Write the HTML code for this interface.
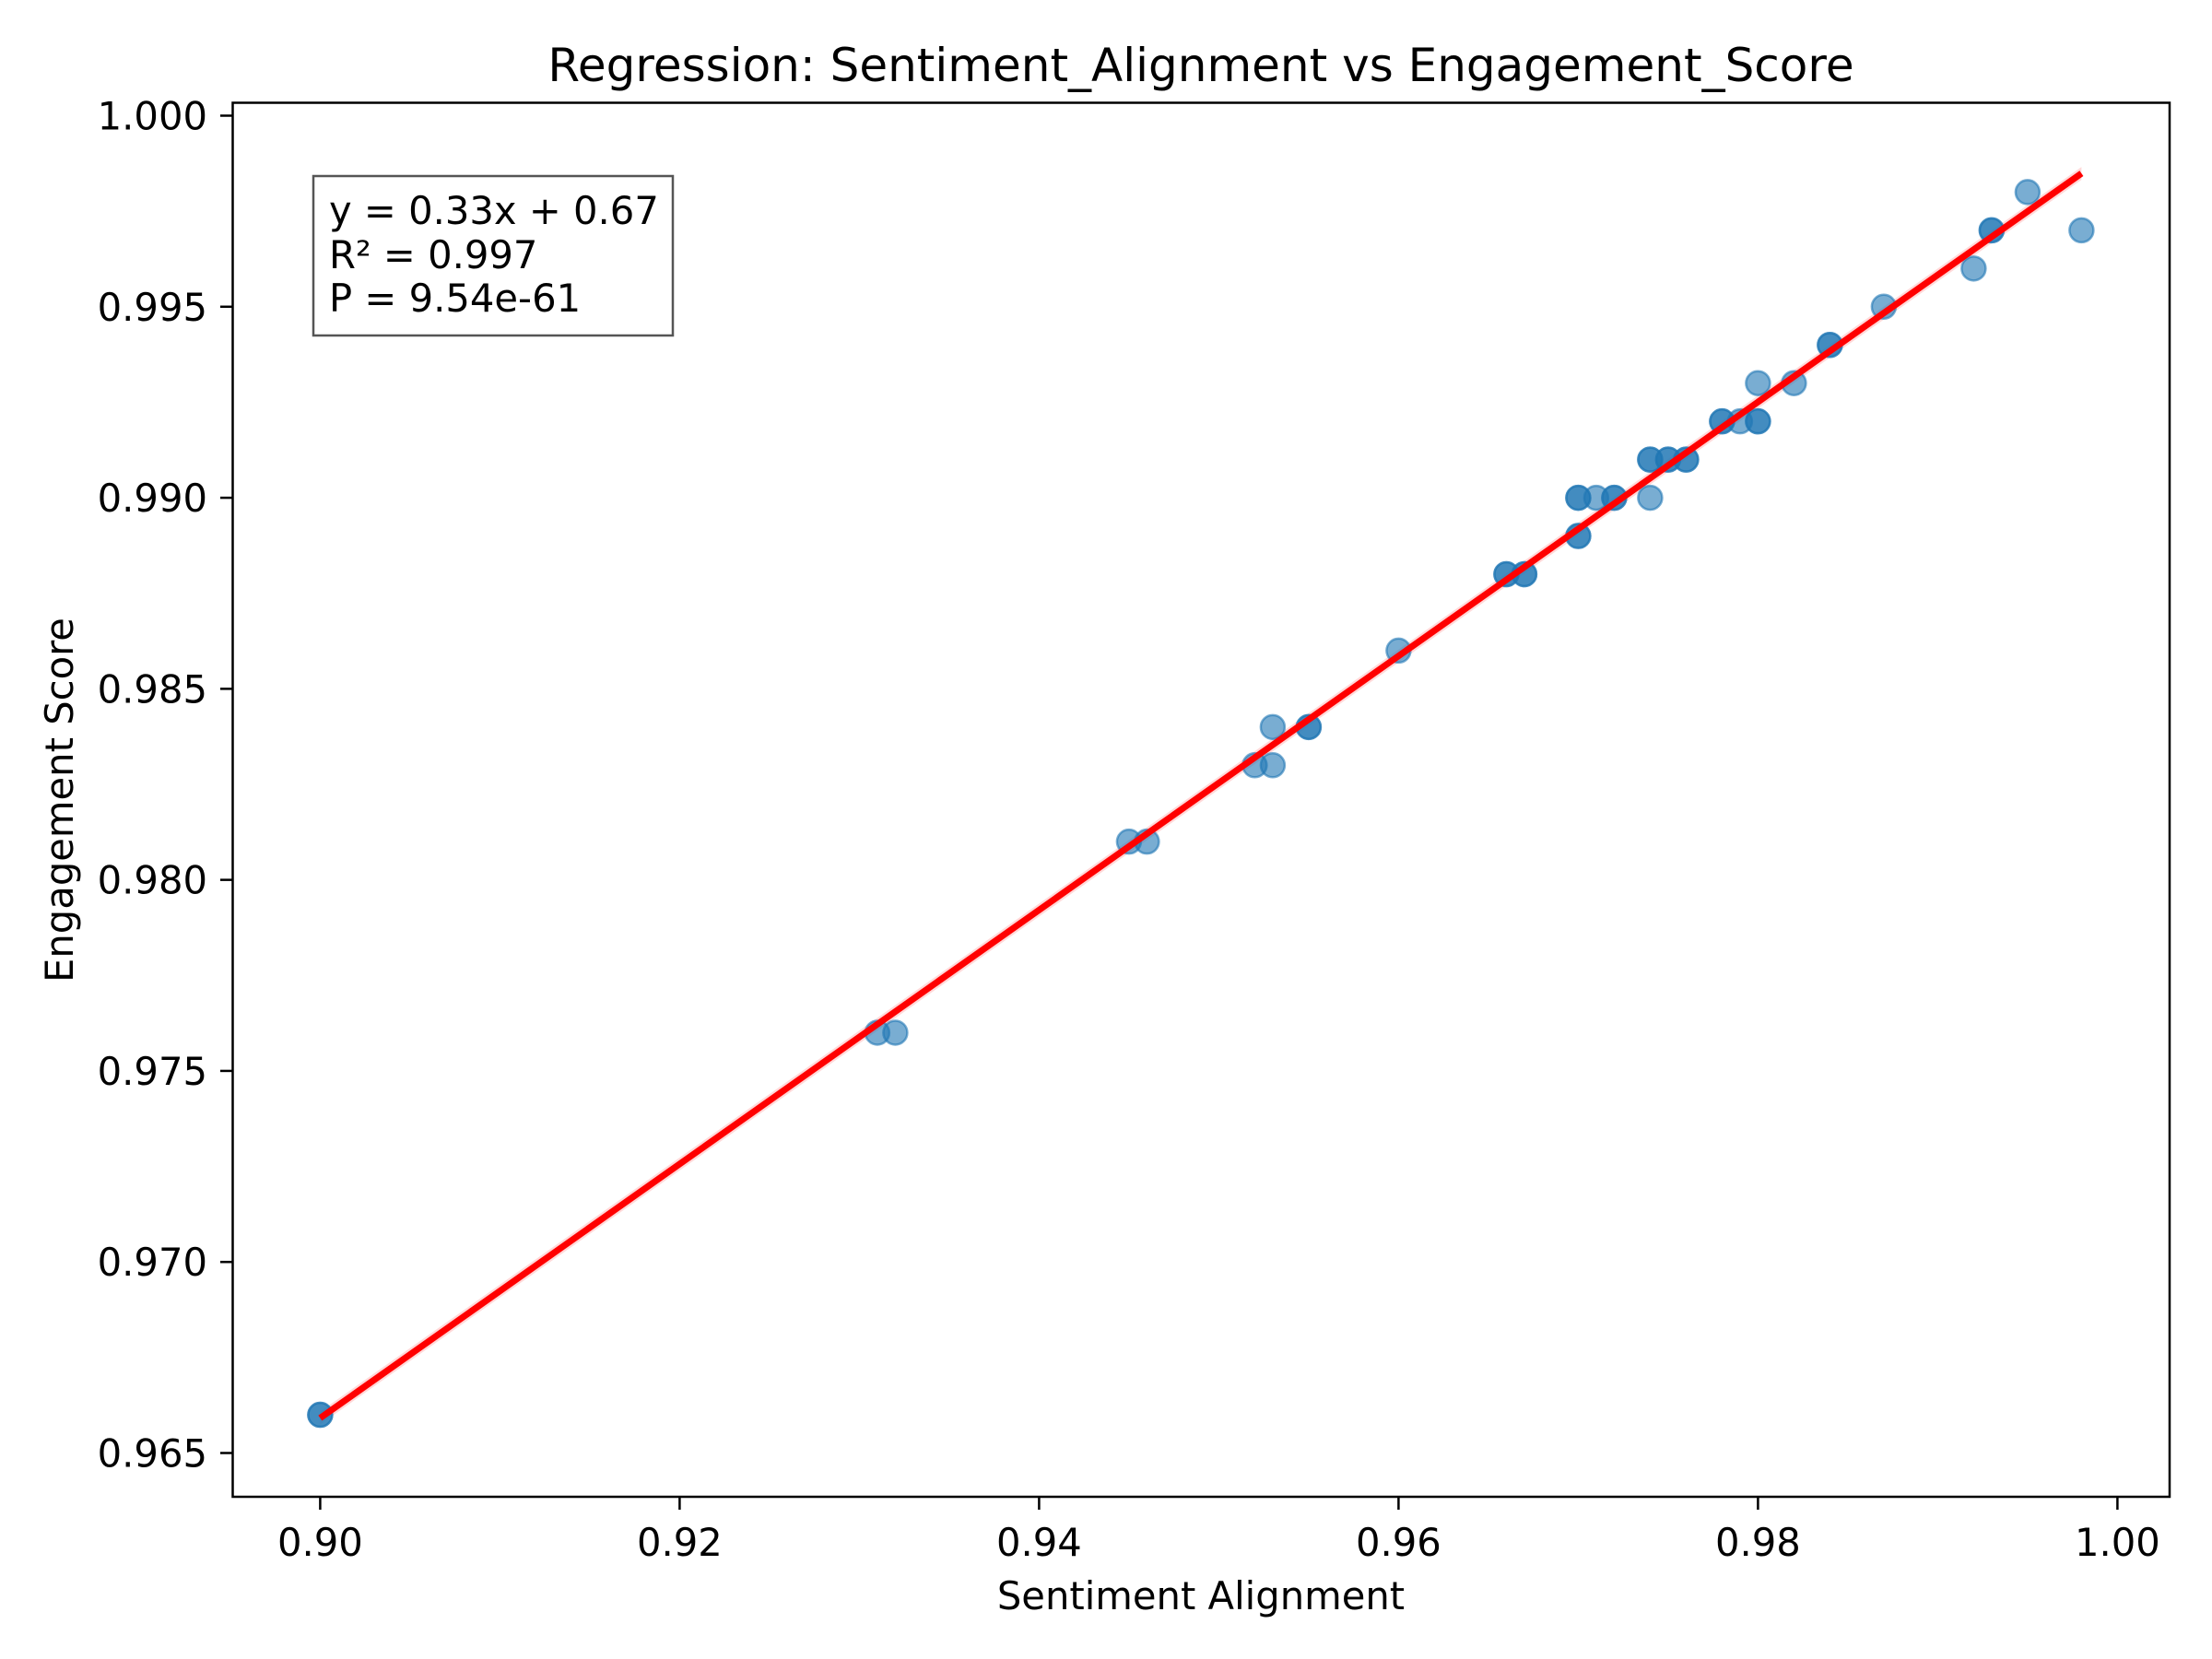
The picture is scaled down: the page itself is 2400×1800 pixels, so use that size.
<!DOCTYPE html>
<html><head><meta charset="utf-8"><style>
html,body{margin:0;padding:0;background:#fff;}
svg{display:block;font-family:"DejaVu Sans","Liberation Sans",sans-serif;}
</style></head><body>
<svg id="chart" width="2400" height="1800" viewBox="0 0 2400 1800">
<rect x="0" y="0" width="2400" height="1800" fill="#fff"/>
<text x="1303" y="88" font-size="50" text-anchor="middle" fill="#000">Regression: Sentiment_Alignment vs Engagement_Score</text>
<g id="band"></g>
<g id="points"></g>
<g id="fit"></g>
<rect x="252.5" y="111.5" width="2101.5" height="1512.5" fill="none" stroke="#000" stroke-width="2.5"/>
<g id="xticks"></g>
<g id="yticks"></g>
<text x="1303" y="1746" font-size="41.7" text-anchor="middle">Sentiment Alignment</text>
<text x="0" y="0" font-size="41.7" text-anchor="middle" transform="translate(79,868) rotate(-90)">Engagement Score</text>
<g>
<rect x="340" y="191" width="390" height="173" fill="#fff" stroke="#555" stroke-width="2.5" fill-opacity="0.8"/>
<text x="357" y="243" font-size="41.7">y = 0.33x + 0.67</text>
<text x="357" y="291" font-size="41.7">R² = 0.997</text>
<text x="357" y="338" font-size="41.7">P = 9.54e-61</text>
</g>
</svg>
<script>
const xs = [0.900,0.900,0.931,0.932,0.945,0.946,0.952,0.953,0.953,0.955,0.955,0.960,0.966,0.966,0.967,0.967,0.970,0.970,0.970,0.970,0.971,0.972,0.972,0.974,0.974,0.974,0.975,0.975,0.976,0.976,0.978,0.978,0.979,0.980,0.980,0.980,0.982,0.984,0.984,0.987,0.992,0.993,0.993,0.995,0.998];
const ys = [0.966,0.966,0.976,0.976,0.981,0.981,0.983,0.983,0.984,0.984,0.984,0.986,0.988,0.988,0.988,0.988,0.989,0.989,0.990,0.990,0.990,0.990,0.990,0.990,0.991,0.991,0.991,0.991,0.991,0.991,0.992,0.992,0.992,0.992,0.992,0.993,0.993,0.994,0.994,0.995,0.996,0.997,0.997,0.998,0.997];
const xTicks = [0.90,0.92,0.94,0.96,0.98,1.00];
const xTickLabels = ["0.90","0.92","0.94","0.96","0.98","1.00"];
const yTicks = [0.965,0.970,0.975,0.980,0.985,0.990,0.995,1.000];
const yTickLabels = ["0.965","0.970","0.975","0.980","0.985","0.990","0.995","1.000"];

const NS = "http://www.w3.org/2000/svg";
const X0 = 347.4, X1 = 2297.4, Y0 = 1576.5, Y1 = 125.5;
function sx(v){ return X0 + (v - 0.90) / 0.10 * (X1 - X0); }
function sy(v){ return Y0 + (v - 0.965) / 0.035 * (Y1 - Y0); }
function mk(tag, attrs, parent){ const e = document.createElementNS(NS, tag); for (const k in attrs) e.setAttribute(k, attrs[k]); parent.appendChild(e); return e; }

const n = xs.length;
let mx = 0, my = 0; for (let i=0;i<n;i++){ mx += xs[i]; my += ys[i]; } mx/=n; my/=n;
let sxx = 0, sxy = 0; for (let i=0;i<n;i++){ sxx += (xs[i]-mx)**2; sxy += (xs[i]-mx)*(ys[i]-my); }
const slope = sxy / sxx, icpt = my - slope * mx;
const xmin = Math.min(...xs), xmax = Math.max(...xs);

const band = document.getElementById('band');
const bw = 7;
const bp = mk('polygon', {points: `${sx(xmin)},${sy(slope*xmin+icpt)-bw} ${sx(xmax)},${sy(slope*xmax+icpt)-bw} ${sx(xmax)},${sy(slope*xmax+icpt)+bw} ${sx(xmin)},${sy(slope*xmin+icpt)+bw}`, fill:'#ff0000', 'fill-opacity':0.15}, band);



const pts = document.getElementById('points');
for (let i=0;i<n;i++){
  const c = mk('circle', {cx: sx(xs[i]), cy: sy(ys[i]), r: 13, fill:'#1f77b4', 'fill-opacity':0.6, stroke:'#1f77b4', 'stroke-opacity':0.6, 'stroke-width':2.5}, pts);
  
  
}

const fl = mk('line', {x1: sx(xmin), y1: sy(slope*xmin+icpt), x2: sx(xmax), y2: sy(slope*xmax+icpt), stroke:'#ff0000', 'stroke-width':7}, document.getElementById('fit'));



const xg = document.getElementById('xticks');
xTicks.forEach((t,i)=>{
  const x = sx(t);
  const l = mk('line', {x1:x, y1:1624, x2:x, y2:1638, stroke:'#000', 'stroke-width':2.5}, xg);
  
  
  const tx = mk('text', {x:x, y:1688, 'font-size':41.7, 'text-anchor':'middle'}, xg);
  tx.textContent = xTickLabels[i];
  
  
});
const yg = document.getElementById('yticks');
yTicks.forEach((t,i)=>{
  const y = sy(t);
  const l = mk('line', {x1:239, y1:y, x2:253, y2:y, stroke:'#000', 'stroke-width':2.5}, yg);
  
  
  const tx = mk('text', {x:225, y:y+15, 'font-size':41.7, 'text-anchor':'end'}, yg);
  tx.textContent = yTickLabels[i];
  
  
});
</script>
</body></html>
